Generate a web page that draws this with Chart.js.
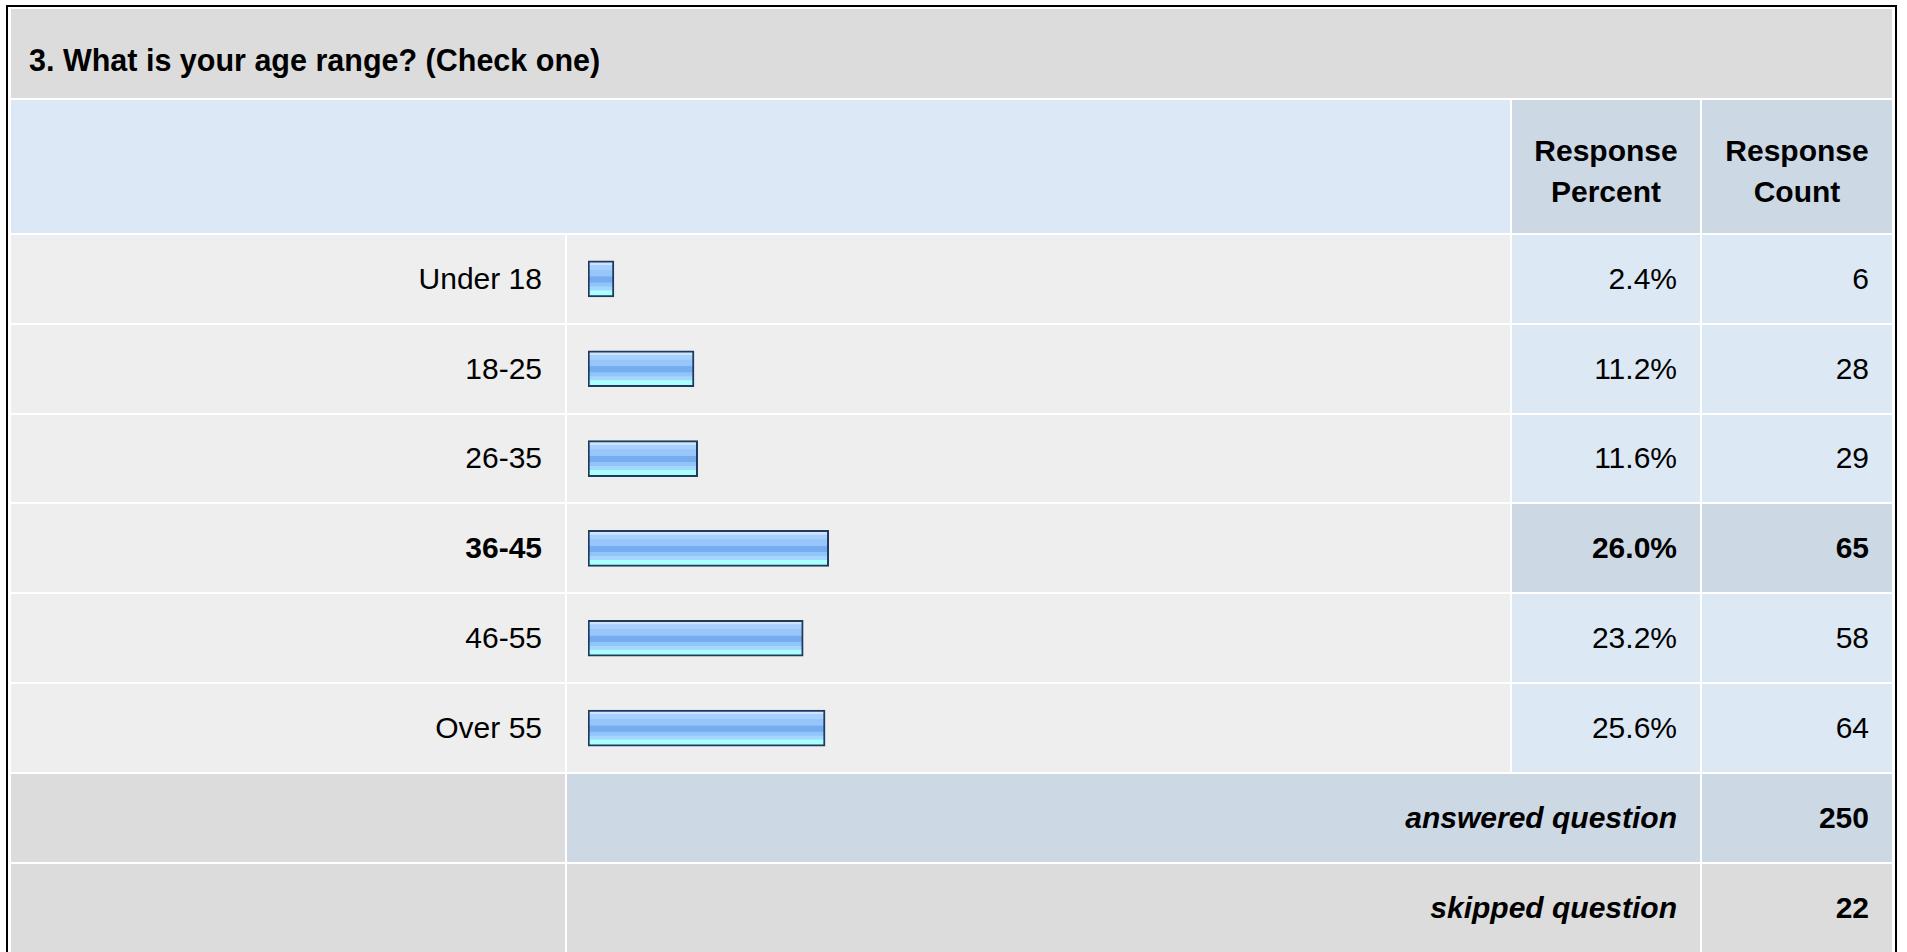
<!DOCTYPE html>
<html>
<head>
<meta charset="utf-8">
<script src="https://cdn.jsdelivr.net/npm/chart.js@4"></script>
<style>
  html, body { margin: 0; padding: 0; background: #fff; }
  body { width: 1907px; height: 952px; position: relative; overflow: hidden;
         font-family: 'Liberation Sans', Arial, Helvetica, sans-serif; color: #000; }
  #frame { position: absolute; left: 6px; top: 5px; width: 1887px; height: 960px;
           border: 2px solid #000; box-sizing: content-box; }
  .cell { position: absolute; box-sizing: border-box; display: flex; align-items: center;
          font-size: 30px; white-space: nowrap; }
  .right { justify-content: flex-end; padding-right: 23px; }
  .bold { font-weight: bold; }
  .ital { font-style: italic; font-weight: bold; }
  #barBox { position: absolute; left: 588px; top: 234px; width: 910px; height: 539px; }
</style>
</head>
<body>
<div id="frame"></div>
<div id="table"></div>
<div id="barBox"><canvas id="myChart"></canvas></div>
<script>
const question = '3. What is your age range? (Check one)';
const categories = ['Under 18', '18-25', '26-35', '36-45', '46-55', 'Over 55'];
const percents = [2.4, 11.2, 11.6, 26.0, 23.2, 25.6];
const counts = [6, 28, 29, 65, 58, 64];
const answered = 250;
const skipped = 22;
const highlighted = '36-45';

// column edges of the survey table
const colLabel = [11, 565];
const colBar = [567, 1510];
const colPct = [1512, 1700];
const colCount = [1702, 1892];

const table = document.getElementById('table');

function cell(x0, x1, y, h, bg, html, cls) {
  const d = document.createElement('div');
  d.className = 'cell ' + (cls || '');
  d.style.left = x0 + 'px';
  d.style.width = (x1 - x0) + 'px';
  d.style.top = y + 'px';
  d.style.height = h + 'px';
  d.style.background = bg;
  d.innerHTML = html || '';
  table.appendChild(d);
  return d;
}

// title + header
const title = cell(11, 1892, 9, 89, '#dcdcdc', question, 'bold');
title.style.paddingLeft = '18px';
title.style.paddingTop = '14px';
title.style.fontSize = '30.5px';
cell(11, 1510, 100, 133, '#dce8f5');
['Response<br>Percent', 'Response<br>Count'].forEach((t, i) => {
  const c = i ? colCount : colPct;
  const h = cell(c[0], c[1], 100, 133, '#cdd8e5', t, 'bold');
  h.style.justifyContent = 'center';
  h.style.textAlign = 'center';
  h.style.lineHeight = '41px';
  h.style.paddingTop = '8px';
});

// answer rows
categories.forEach((cat, i) => {
  const y = 235 + i * 89.8;
  const h = 87.8;
  const hl = cat === highlighted;
  cell(colLabel[0], colLabel[1], y, h, '#eeeeee', cat, 'right' + (hl ? ' bold' : ''));
  cell(colBar[0], colBar[1], y, h, '#eeeeee');
  cell(colPct[0], colPct[1], y, h, hl ? '#cdd8e5' : '#dde8f5', percents[i].toFixed(1) + '%', 'right' + (hl ? ' bold' : ''));
  cell(colCount[0], colCount[1], y, h, hl ? '#cdd8e5' : '#dde8f5', counts[i], 'right' + (hl ? ' bold' : ''));
});

// summary rows
cell(colLabel[0], colLabel[1], 774, 88, '#dcdcdc');
cell(colBar[0], colPct[1], 774, 88, '#cdd8e5', 'answered question', 'right ital');
cell(colCount[0], colCount[1], 774, 88, '#cdd8e5', answered, 'right bold');
cell(colLabel[0], colLabel[1], 864, 88, '#dcdcdc');
cell(colBar[0], colPct[1], 864, 88, '#dcdcdc', 'skipped question', 'right ital');
cell(colCount[0], colCount[1], 864, 88, '#dcdcdc', skipped, 'right bold');

// glossy banded fill, one gradient per bar
function barFill(ctx) {
  const chart = ctx.chart;
  const y = chart.scales && chart.scales.y;
  if (!y || !chart.chartArea) return '#98c6fa';
  const mid = y.getPixelForValue(ctx.dataIndex);
  const g = chart.ctx.createLinearGradient(0, mid - 18, 0, mid + 18);
  g.addColorStop(0.00, '#cfe5ff');
  g.addColorStop(0.11, '#cfe5ff');
  g.addColorStop(0.12, '#a8d0ff');
  g.addColorStop(0.24, '#a8d0ff');
  g.addColorStop(0.25, '#98c6fa');
  g.addColorStop(0.42, '#98c6fa');
  g.addColorStop(0.44, '#76adf0');
  g.addColorStop(0.59, '#76adf0');
  g.addColorStop(0.61, '#91c4f8');
  g.addColorStop(0.70, '#91c4f8');
  g.addColorStop(0.72, '#a3d7fe');
  g.addColorStop(0.81, '#a3d7fe');
  g.addColorStop(0.83, '#aaffff');
  g.addColorStop(1.00, '#aaffff');
  return g;
}

new Chart(document.getElementById('myChart'), {
  type: 'bar',
  data: {
    labels: categories,
    datasets: [
      {
        label: 'Response Percent',
        data: percents,
        base: -0.45,
        backgroundColor: barFill,
        borderColor: '#1e3a5f',
        borderWidth: 2,
        borderSkipped: false,
        barThickness: 36,
      },
    ],
  },
  options: {
    indexAxis: 'y',
    responsive: true,
    maintainAspectRatio: false,
    animation: false,
    layout: { padding: 0 },
    plugins: { legend: { display: false }, tooltip: { enabled: false } },
    scales: {
      x: { display: false, min: -0.45, max: 99.55 },
      y: { display: false },
    },
  },
});
</script>
</body>
</html>
